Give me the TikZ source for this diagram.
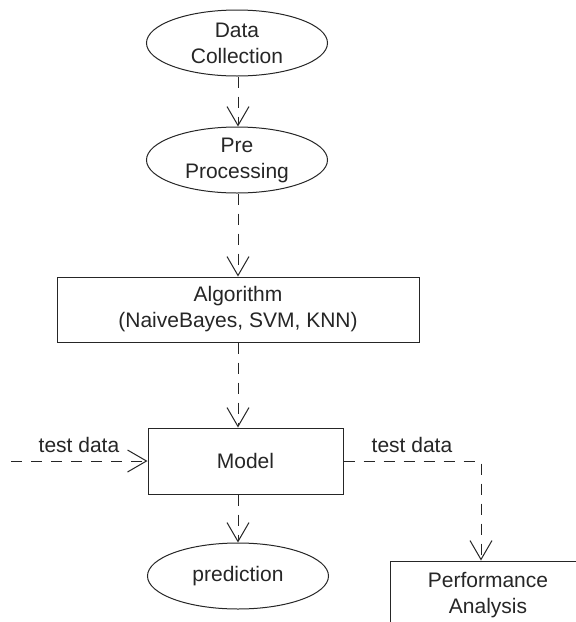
\documentclass[tikz,border=0pt]{standalone}
\usepackage{fontspec}
\setmainfont{Liberation Sans}
\usetikzlibrary{shapes.geometric,arrows.meta}
\begin{document}
\begin{tikzpicture}[x=1pt,y=-1pt,
  every node/.style={font=\fontsize{21}{26}\selectfont, text=black!85, align=center, inner sep=0pt},
  ell/.style={draw=black!85, line width=1pt, ellipse, minimum width=181pt, minimum height=66pt},
  boxn/.style={draw=black!85, line width=1pt, rectangle},
  conn/.style={draw=black!85, line width=1pt, dash pattern=on 11pt off 9pt,
    -{Straight Barb[length=19pt,width=22pt,line width=1pt]}},
  lbl/.style={anchor=base}
]
\useasboundingbox (0,0) rectangle (576,622);
\clip (0,0) rectangle (576,622);
\fill[white] (0,0) rectangle (576,622);
\coordinate (axis) at (238,0);
\coordinate (rx) at (481,0);
\coordinate (lin) at (11,461);

\node[ell] (dc) at (237,43) {Data\\Collection};
\node[ell] (pp) at (237,160) {Pre\\Processing};
\node[boxn, minimum width=362pt, minimum height=65pt] (alg) at (238,309.5) {Algorithm\\(NaiveBayes, SVM, KNN)};
\node[boxn, minimum width=195pt, minimum height=66pt] (model) at (245.5,461) {Model};
\node[ell] (pred) at (238,576) {prediction};
\node[boxn, minimum width=196pt, minimum height=68pt] (perf) at (488,595) {Performance\\Analysis};

\draw[conn] (dc.south -| axis) -- (pp.north -| axis);
\draw[conn] (pp.south -| axis) -- (alg.north -| axis);
\draw[conn] (alg.south -| axis) -- (model.north -| axis);
\draw[conn] (model.south -| axis) -- (pred.north -| axis);
\draw[conn] (lin) -- (model.west);
\draw[conn] (model.east) -| (perf.north -| rx);

\node[lbl] (tdl) at (79,452) {test data};
\node[lbl] (tdr) at (412,452) {test data};
\end{tikzpicture}
\end{document}
